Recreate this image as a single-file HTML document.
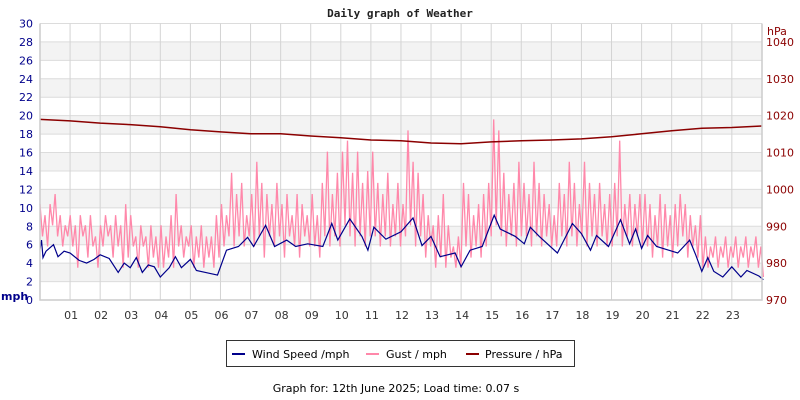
<!DOCTYPE html>
<html><head><meta charset="utf-8"><style>
body{margin:0;background:#fff;width:800px;height:400px;overflow:hidden}
svg{display:block;font-family:"DejaVu Sans","Liberation Sans",sans-serif}
</style></head><body>
<svg id="chart" width="800" height="400" viewBox="0 0 800 400">
<text x="400" y="17" text-anchor="middle" font-family="DejaVu Sans Mono,Liberation Mono,monospace" font-weight="bold" font-size="11" fill="#222">Daily graph of Weather</text>
<g id="bands"></g>
<g id="grid"></g>
<g id="series"></g>
<g id="axes"></g>
<text x="1" y="300" font-size="11" font-weight="bold" fill="#00008b">mph</text>
<text x="767" y="35" font-size="11" fill="#8b0000">hPa</text>
<g>
<rect x="226.5" y="340.5" width="348" height="26" fill="#fff" stroke="#333"/>
<g><line x1="232" y1="354" x2="245" y2="354" stroke="#00008b" stroke-width="2"/><text x="252" y="358" font-size="11" fill="#000">Wind Speed /mph</text></g>
<g><line x1="366" y1="354" x2="379" y2="354" stroke="#ff88aa" stroke-width="2"/><text x="386" y="358" font-size="11" fill="#000">Gust / mph</text></g>
<g><line x1="466" y1="354" x2="479" y2="354" stroke="#8b0000" stroke-width="2"/><text x="485" y="358" font-size="11" fill="#000">Pressure / hPa</text></g>
</g>
<text x="396" y="392" text-anchor="middle" font-size="11" fill="#000">Graph for: 12th June 2025; Load time: 0.07 s</text>
</svg>
<script>
const hourLabels=["01","02","03","04","05","06","07","08","09","10","11","12","13","14","15","16","17","18","19","20","21","22","23"];
const leftTicks=[0,2,4,6,8,10,12,14,16,18,20,22,24,26,28,30];
const rightTicks=[970,980,990,1000,1010,1020,1030,1040];
const windTimes=[0,0.05,0.1,0.2,0.45,0.6,0.8,1.0,1.3,1.55,1.8,2.0,2.3,2.6,2.8,3.0,3.2,3.4,3.6,3.8,4.0,4.3,4.5,4.7,5.0,5.2,5.5,5.9,6.2,6.6,6.9,7.1,7.5,7.8,8.2,8.5,8.9,9.4,9.7,9.9,10.3,10.7,10.9,11.1,11.5,12.0,12.4,12.7,13.0,13.3,13.8,14.0,14.3,14.7,15.1,15.3,15.8,16.1,16.3,16.6,17.2,17.7,18.0,18.3,18.5,18.9,19.3,19.6,19.8,20.0,20.2,20.5,20.9,21.2,21.6,21.8,22.0,22.2,22.4,22.7,23.0,23.3,23.5,23.9,24.05];
const windValues=[5.5,6.5,4.6,5.3,6.0,4.7,5.3,5.1,4.3,4.0,4.4,4.9,4.5,3.0,4.0,3.5,4.6,3.0,3.8,3.6,2.5,3.5,4.7,3.5,4.4,3.2,3.0,2.7,5.4,5.8,6.8,5.8,8.1,5.8,6.5,5.8,6.1,5.8,8.3,6.5,8.8,6.9,5.4,7.9,6.6,7.4,8.9,5.9,6.9,4.7,5.1,3.6,5.4,5.8,9.2,7.7,6.9,6.1,7.9,6.9,5.1,8.3,7.2,5.4,7.0,5.8,8.7,6.1,7.7,5.6,7.0,5.8,5.4,5.1,6.5,4.9,3.1,4.6,3.1,2.5,3.6,2.5,3.2,2.6,2.2];
const gustValues=[
10.4,6.9,9.2,5.8,10.4,8.1,11.5,6.9,9.2,5.8,8.1,6.9,
9.2,5.8,8.1,3.5,9.2,6.9,8.1,4.6,9.2,5.8,6.9,3.5,
8.1,5.8,9.2,6.9,8.1,4.6,9.2,5.8,8.1,3.5,10.4,4.6,
9.2,5.8,6.9,3.5,8.1,5.8,6.9,3.5,8.1,4.6,6.9,3.5,
8.1,3.5,6.9,4.6,9.2,3.5,11.5,5.8,8.1,4.6,6.9,5.8,
8.1,3.5,6.9,4.6,8.1,3.5,6.9,4.6,6.9,3.5,9.2,4.6,
10.4,5.8,9.2,6.9,13.8,5.8,11.5,6.9,12.7,5.8,9.2,6.9,
11.5,5.8,15.0,6.9,12.7,4.6,11.5,6.9,10.4,5.8,12.7,6.9,
10.4,4.6,11.5,6.9,9.2,5.8,11.5,4.6,10.4,6.9,9.2,5.8,
11.5,5.8,9.2,4.6,12.7,6.9,16.1,5.8,11.5,6.9,13.8,5.8,
16.1,8.1,17.3,6.9,13.8,5.8,16.1,6.9,12.7,5.8,14.0,6.9,
16.1,6.9,12.7,5.8,11.5,6.9,13.8,5.8,10.4,6.9,12.7,5.8,
10.4,6.9,18.4,8.1,15.0,5.8,13.8,6.9,11.5,4.6,9.2,5.8,
8.1,3.5,9.2,4.6,11.5,3.5,8.1,4.6,5.8,3.5,6.9,3.5,
12.7,5.8,11.5,4.6,9.2,5.8,10.4,4.6,11.5,5.8,12.7,6.9,
19.6,8.1,18.4,6.9,13.8,5.8,11.5,6.9,12.7,5.8,15.0,6.9,
12.7,6.9,11.5,5.8,15.0,6.9,12.7,5.8,11.5,6.9,10.4,5.8,
9.2,5.8,12.7,6.9,11.5,5.8,15.0,6.9,12.7,5.8,10.4,6.9,
15.0,5.8,12.7,6.9,11.5,5.8,12.7,6.9,10.4,5.8,11.5,5.8,
12.7,6.9,17.3,5.8,10.4,6.9,11.5,5.8,10.4,6.9,11.5,5.8,
11.5,5.8,10.4,4.6,9.2,5.8,11.5,4.6,10.4,5.8,9.2,4.6,
10.4,5.8,11.5,6.9,10.4,4.6,9.2,5.8,8.1,4.6,9.2,3.5,
6.9,3.5,5.8,4.6,6.9,3.5,5.8,4.6,6.9,3.5,5.8,4.6,
6.9,3.5,5.8,4.6,6.9,3.5,5.8,4.6,6.9,3.5,5.8,2.5];
const pressureValues=[1019.0,1018.6,1018.0,1017.6,1017.0,1016.2,1015.6,1015.1,1015.1,1014.5,1014.0,1013.4,1013.2,1012.6,1012.4,1012.9,1013.2,1013.4,1013.7,1014.3,1015.1,1015.9,1016.6,1016.8,1017.2];

const X0=40,X1=762,Y0=300,Y1=23.5;
const xs=h=>X0+h*30.08;
const yL=v=>Y0-v*(Y0-Y1)/30;
const yR=p=>Y0-(p-970)*(Y0-42)/70;
const NS="http://www.w3.org/2000/svg";
function mk(t,a,p){const e=document.createElementNS(NS,t);for(const k in a)e.setAttribute(k,a[k]);p.appendChild(e);return e;}
const bands=document.getElementById('bands'),grid=document.getElementById('grid'),series=document.getElementById('series'),axes=document.getElementById('axes');
mk('rect',{x:X0,y:Y1,width:X1-X0,height:Y0-Y1,fill:'#fff'},bands);
for(let k=1;k<15;k+=2){
  const r=mk('rect',{x:X0,y:yL(k*2+2),width:X1-X0,height:yL(k*2)-yL(k*2+2),fill:'#f3f3f3'},bands);
  
  
}
leftTicks.forEach(v=>{
  const l=mk('line',{x1:X0,x2:X1,y1:yL(v),y2:yL(v),stroke:'#dcdcdc','stroke-width':1},grid);
  
  
  const t=mk('text',{x:33,y:yL(v)+4,'text-anchor':'end','font-size':11,fill:'#00008b'},axes);
  
  
  t.textContent=v;
});
rightTicks.forEach(v=>{
  const t=mk('text',{x:766,y:yR(v)+4,'font-size':11,fill:'#8b0000'},axes);
  
  
  t.textContent=v;
});
hourLabels.forEach((s,i)=>{
  const x=xs(i+1);
  const l=mk('line',{x1:x,x2:x,y1:Y1,y2:Y0,stroke:'#d4d4d4','stroke-width':1},grid);
  
  
  const t=mk('text',{x:x+1,y:319,'text-anchor':'middle','font-size':11,fill:'#333'},axes);
  
  
  t.textContent=s;
});
const frame=mk('path',{d:`M${X0},${Y1}V${Y0}H${X1}V${Y1}`,fill:'none',stroke:'#ccc','stroke-width':1.5},axes);


const gn=gustValues.length;
const gp=gustValues.map((v,i)=>xs(i*24.05/(gn-1)).toFixed(1)+','+yL(v).toFixed(1)).join(' ');
const g=mk('polyline',{points:gp,fill:'none',stroke:'#ff88aa','stroke-width':1.3,'stroke-linejoin':'bevel'},series);


const pp=pressureValues.map((v,i)=>xs(Math.min(i,24.05)).toFixed(1)+','+yR(v).toFixed(1)).join(' ');
const p=mk('polyline',{points:pp,fill:'none',stroke:'#8b0000','stroke-width':1.5},series);


const wp=windValues.map((v,i)=>xs(windTimes[i]).toFixed(1)+','+yL(v).toFixed(1)).join(' ');
const w=mk('polyline',{points:wp,fill:'none',stroke:'#00008b','stroke-width':1.2},series);


</script>
</body></html>
